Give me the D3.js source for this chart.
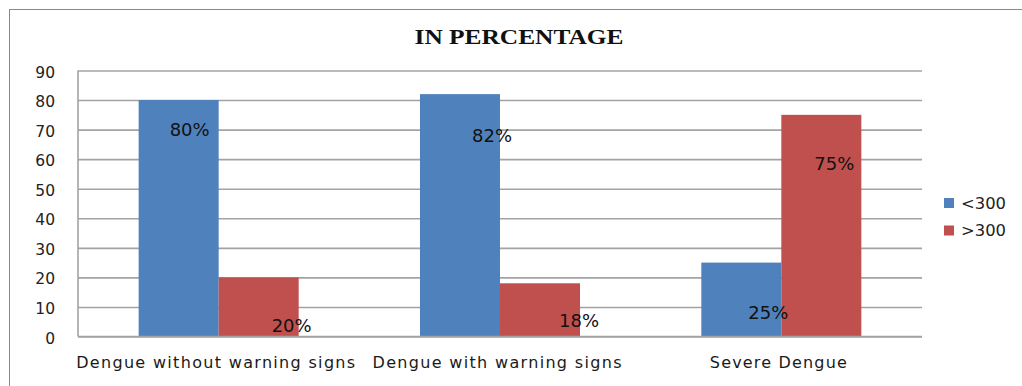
<!DOCTYPE html>
<html>
<head>
<meta charset="utf-8">
<script src="https://cdn.jsdelivr.net/npm/d3@7/dist/d3.min.js"></script>
<style>
  html, body { margin: 0; padding: 0; background: #fff; }
  svg { display: block; }
</style>
</head>
<body>
<svg id="chart" width="1022" height="386"></svg>
<script>
// Platelet count groups by dengue severity, in percent
const categories = ["Dengue without warning signs", "Dengue with warning signs", "Severe Dengue"];
const seriesNames = ["<300", ">300"];
const below300 = [80, 82, 25];
const above300 = [20, 18, 75];
const yTicks = [0, 10, 20, 30, 40, 50, 60, 70, 80, 90];
const chartTitle = "IN PERCENTAGE";

// Layout of the value labels: [dx from bar centre, dy from bar top] in px
const labelShift = [
  [[11, 29], [33, 48]],
  [[32, 41], [39, 37]],
  [[27, 50], [13, 49]]
];
const categoryLabelWidths = [279, 249, 137];
const colors = ["#4F81BD", "#C0504D"];

const svg = d3.select("#chart");
const plot = { left: 78, right: 922, top: 70.5, bottom: 336.5 };

// outer frame
svg.append("rect")
  .attr("x", 9.5).attr("y", 9.5)
  .attr("width", 1030).attr("height", 400)
  .attr("fill", "#fff").attr("stroke", "#8a8a8a").attr("stroke-width", 1);

const x0 = d3.scaleBand().domain(categories).range([plot.left, plot.right]).padding(0);
const x1 = d3.scaleBand().domain(seriesNames).range([0, x0.bandwidth()])
  .paddingInner(0).paddingOuter(0.758);
const y = d3.scaleLinear().domain([0, 90]).range([plot.bottom, plot.top]);

// gridlines and value axis
const yAxis = svg.append("g")
  .attr("transform", `translate(${plot.left},0)`)
  .call(d3.axisLeft(y).tickValues(yTicks).tickSize(-(plot.right - plot.left)).tickPadding(23));
yAxis.select(".domain").remove();
yAxis.selectAll(".tick line").attr("stroke", "#a3a3a3").attr("stroke-width", 1.6);
yAxis.selectAll(".tick text")
  .attr("font-family", "'DejaVu Sans', Verdana, sans-serif")
  .attr("font-size", 15.5).attr("fill", "#222").attr("dy", "0.42em");

// left edge of the plot area
svg.append("line")
  .attr("x1", plot.left).attr("x2", plot.left)
  .attr("y1", y(90)).attr("y2", y(0))
  .attr("stroke", "#a3a3a3").attr("stroke-width", 1.6);

const rows = categories.map((c, i) => ({ cat: c, vals: [below300[i], above300[i]], idx: i }));

const groups = svg.append("g").selectAll("g").data(rows).join("g")
  .attr("transform", d => `translate(${x0(d.cat)},0)`);

groups.selectAll("rect")
  .data(d => d.vals.map((v, k) => ({ key: seriesNames[k], v, k, idx: d.idx })))
  .join("rect")
  .attr("x", d => x1(d.key))
  .attr("y", d => y(d.v))
  .attr("width", x1.bandwidth())
  .attr("height", d => y(0) - y(d.v))
  .attr("fill", d => colors[d.k]);

// redraw baseline over the bars
svg.append("line")
  .attr("x1", plot.left).attr("x2", plot.right)
  .attr("y1", y(0)).attr("y2", y(0))
  .attr("stroke", "#a3a3a3").attr("stroke-width", 1.6);

// value labels
groups.selectAll("text.val")
  .data(d => d.vals.map((v, k) => ({ key: seriesNames[k], v, k, idx: d.idx })))
  .join("text")
  .attr("class", "val")
  .attr("x", d => x1(d.key) + x1.bandwidth() / 2 + labelShift[d.idx][d.k][0])
  .attr("y", d => y(d.v) + labelShift[d.idx][d.k][1])
  .attr("dy", "0.36em")
  .attr("text-anchor", "middle")
  .attr("font-family", "'DejaVu Sans', Verdana, sans-serif")
  .attr("font-size", 18)
  .attr("fill", "#111")
  .text(d => d.v + "%");

// category labels
svg.append("g").selectAll("text").data(categories).join("text")
  .attr("x", d => x0(d) + x0.bandwidth() / 2 - 3)
  .attr("y", 368)
  .attr("text-anchor", "middle")
  .attr("font-family", "'DejaVu Sans', Verdana, sans-serif")
  .attr("font-size", 16)
  .attr("fill", "#1a1a1a")
  .attr("textLength", (d, i) => categoryLabelWidths[i])
  .attr("lengthAdjust", "spacing")
  .text(d => d);

// title
svg.append("text")
  .attr("x", 519).attr("y", 43.5)
  .attr("text-anchor", "middle")
  .attr("font-family", "'Liberation Serif', 'Times New Roman', serif")
  .attr("font-weight", "bold")
  .attr("font-size", 20)
  .attr("fill", "#111")
  .attr("textLength", 209)
  .attr("lengthAdjust", "spacingAndGlyphs")
  .text(chartTitle);

// legend
const legend = svg.append("g").selectAll("g").data(seriesNames).join("g")
  .attr("transform", (d, i) => `translate(944,${198 + i * 27.5})`);
legend.append("rect").attr("width", 10).attr("height", 10).attr("fill", (d, i) => colors[i]);
legend.append("text")
  .attr("x", 17).attr("y", 5).attr("dy", "0.36em")
  .attr("font-family", "'DejaVu Sans', Verdana, sans-serif")
  .attr("font-size", 15.5)
  .attr("fill", "#222")
  .attr("textLength", 45)
  .attr("lengthAdjust", "spacingAndGlyphs")
  .text(d => d);
</script>
</body>
</html>
